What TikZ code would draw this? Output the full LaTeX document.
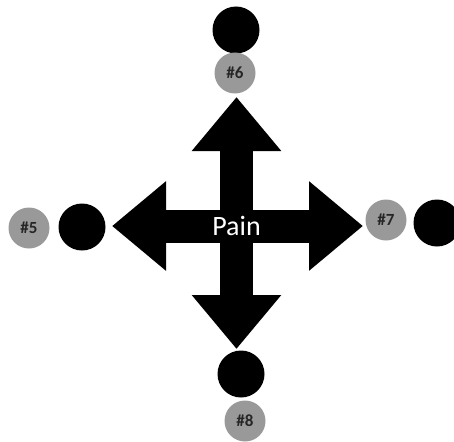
\documentclass[tikz,border=0pt]{standalone}
\usepackage{fontspec}
\setmainfont{Carlito}
\usetikzlibrary{arrows.meta,positioning}

\tikzset{
    bigarrow/.style={line width=33pt, -{Triangle[width=86pt,length=54pt]}},
    blackdot/.style={circle, fill=black, minimum size=47pt, inner sep=0pt},
    graydot/.style={circle, fill=black!40, minimum size=41pt, inner sep=0pt,
        text=black!85, font=\bfseries\fontsize{17}{17}\selectfont},
}

\begin{document}
\begin{tikzpicture}[x=1pt, y=-1pt]
    \useasboundingbox (0,0) rectangle (454,441);
    \node (pain) at (236.5,226) {};
    \coordinate (tipup) at (236.5,97);
    \coordinate (tipdown) at (236.5,349);
    \coordinate (tipleft) at (112,226);
    \coordinate (tipright) at (363,226);
    \draw[bigarrow] (pain.center) -- (tipup);
    \draw[bigarrow] (pain.center) -- (tipdown);
    \draw[bigarrow] (pain.center) -- (tipleft);
    \draw[bigarrow] (pain.center) -- (tipright);
    \node[text=white, font=\fontsize{28}{28}\selectfont] at (pain) {Pain};
    % top
    \node[blackdot] (top) at (236,30) {};
    \node[graydot] (n6) at (235,73) {\#6};
    % left
    \node[blackdot] (left) at (82,227) {};
    \node[graydot] (n5) at (29,228) {\#5};
    % right
    \node[graydot] (n7) at (386,220) {\#7};
    \node[blackdot] (right) at (437,223) {};
    % bottom
    \node[blackdot] (bottom) at (241,374) {};
    \node[graydot] (n8) at (245,421) {\#8};
\end{tikzpicture}
\end{document}
